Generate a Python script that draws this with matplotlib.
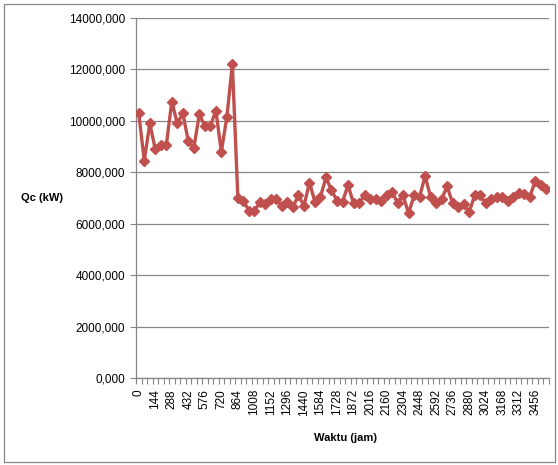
import matplotlib
matplotlib.use("Agg")
import matplotlib.pyplot as plt
from matplotlib.patches import Rectangle
from matplotlib.ticker import FuncFormatter

# Heat load over time, one sample every 48 hours
waktu = list(range(0, 3553, 48))
qc = [
    10300, 8450, 9900, 8900, 9050, 9050, 10750, 9900, 10300, 9200,
    8950, 10250, 9800, 9800, 10400, 8800, 10150, 12200, 7000, 6900,
    6500, 6500, 6850, 6750, 6950, 6950, 6700, 6850, 6650, 7100,
    6700, 7600, 6850, 7050, 7800, 7300, 6900, 6850, 7500, 6800,
    6800, 7100, 6950, 6950, 6900, 7100, 7250, 6800, 7100, 6400,
    7100, 7050, 7850, 7050, 6800, 6950, 7450, 6800, 6650, 6750,
    6450, 7100, 7100, 6800, 6950, 7050, 7050, 6900, 7050, 7200,
    7150, 7050, 7650, 7500, 7350,
]
y_ticks = [0, 2000, 4000, 6000, 8000, 10000, 12000, 14000]

plt.rcParams["font.family"] = ["Liberation Sans", "DejaVu Sans"]
grey = "#868686"
red = "#C0504D"

fig = plt.figure(figsize=(5.58, 4.65), dpi=100)
ax = fig.add_axes([136 / 558, 1 - 378 / 465, 413 / 558, 360 / 465])

idx = list(range(len(waktu)))
ax.plot(idx, qc, color=red, lw=2.4, marker="D", ms=5,
        markeredgecolor=red, markerfacecolor=red, zorder=3)

ax.set_xlim(-0.5, len(waktu) - 0.5)
ax.set_ylim(0, 14000)
ax.set_yticks(y_ticks)
ax.yaxis.set_major_formatter(FuncFormatter(lambda v, _: f"{v:.3f}".replace(".", ",")))
ax.grid(axis="y", color=grey, lw=0.9)
ax.set_axisbelow(True)

# labels every third category, tick marks between all categories
ax.set_xticks(idx[::3])
ax.set_xticklabels([str(w) for w in waktu[::3]], rotation=90, fontsize=8.5)
ax.set_xticks([i - 0.5 for i in range(len(waktu) + 1)], minor=True)
ax.tick_params(axis="x", which="major", length=0, pad=8)
ax.tick_params(axis="x", which="minor", length=4, color=grey, width=0.8)
ax.tick_params(axis="y", length=4, color=grey, width=0.8, labelsize=8.5, pad=4)

for side in ("top", "right"):
    ax.spines[side].set_visible(False)
for side in ("left", "bottom"):
    ax.spines[side].set_color(grey)
    ax.spines[side].set_linewidth(0.9)

fig.text(42 / 558, 1 - 198 / 465, "Qc (kW)", fontsize=8, fontweight="bold",
         ha="center", va="center")
fig.text(345 / 558, 1 - 438 / 465, "Waktu (jam)", fontsize=8, fontweight="bold",
         ha="center", va="center")

fig.patches.append(Rectangle((4 / 558, 3 / 465), 551 / 558, 458 / 465,
                             transform=fig.transFigure, fill=False,
                             edgecolor=grey, lw=0.9))

fig.savefig("out.png", dpi=100)
